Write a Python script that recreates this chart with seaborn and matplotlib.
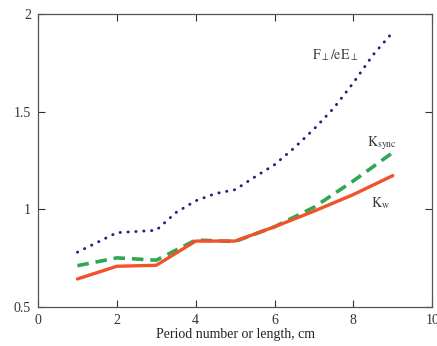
import pandas as pd
import numpy as np
import matplotlib
matplotlib.use('Agg')
import matplotlib.pyplot as plt
import seaborn as sns

# values
x_k = [1, 2, 3, 4, 5, 6, 7, 8, 9]
k_w = [0.643, 0.708, 0.713, 0.837, 0.837, 0.91, 0.99, 1.075, 1.172]
k_sync = [0.711, 0.751, 0.739, 0.842, 0.835, 0.91, 1.01, 1.145, 1.29]

x_f = [1, 2, 3, 3.5, 4, 4.5, 5, 5.5, 6, 6.5, 7, 7.5, 8, 8.5, 9]
f_perp = [0.78, 0.88, 0.892, 0.983, 1.043, 1.08, 1.10, 1.165, 1.228,
          1.314, 1.41, 1.517, 1.647, 1.79, 1.906]

x_ticks = [0, 2, 4, 6, 8, 10]
y_ticks = [0.5, 1, 1.5, 2]
y_labels = ['0.5', '1', '1.5', '2']

sns.set_style('ticks')
plt.rcParams['font.family'] = ['Liberation Serif', 'DejaVu Serif']
plt.rcParams['mathtext.fontset'] = 'stix'

fig = plt.figure(figsize=(4.37, 3.46), dpi=100)
ax = fig.add_axes([0.087, 0.113, 0.902, 0.847])

red = '#f0522a'
green = '#2fa84f'
blue = '#1c2380'

sns.lineplot(x=x_f, y=f_perp, ax=ax, color=blue, lw=2.1,
             linestyle=(0, (0.1, 2.6)), dash_capstyle='round')
sns.lineplot(x=x_k, y=k_sync, ax=ax, color=green, lw=2.6,
             linestyle=(0, (3.2, 1.9)))
sns.lineplot(x=x_k, y=k_w, ax=ax, color=red, lw=2.4)

lab_col = '#3a3a3a'
ax.text(7.55, 1.79, r'$\mathrm{F}_{\perp}\mathrm{/eE}_{\perp}$', fontsize=10,
        color=lab_col, ha='center', va='center')
ax.text(8.72, 1.34, r'$\mathrm{K}_{\mathrm{sync}}$', fontsize=10,
        color=lab_col, ha='center', va='center')
ax.text(8.7, 1.03, r'$\mathrm{K}_{\mathrm{w}}$', fontsize=10,
        color=lab_col, ha='center', va='center')

ax.set_xlim(0, 10)
ax.set_ylim(0.5, 2)
ax.set_xticks(x_ticks)
ax.set_yticks(y_ticks)
ax.set_yticklabels(y_labels)
ax.tick_params(direction='in', length=5, width=0.8, top=True, right=True,
               labelsize=10, colors='#333333', pad=5)
for s in ax.spines.values():
    s.set_color('#555555')
    s.set_linewidth(0.9)

ax.set_xlabel('Period number or length, cm', fontsize=10, color='#222222', labelpad=1)
ax.set_ylabel('')

fig.savefig('out.png', dpi=100)
